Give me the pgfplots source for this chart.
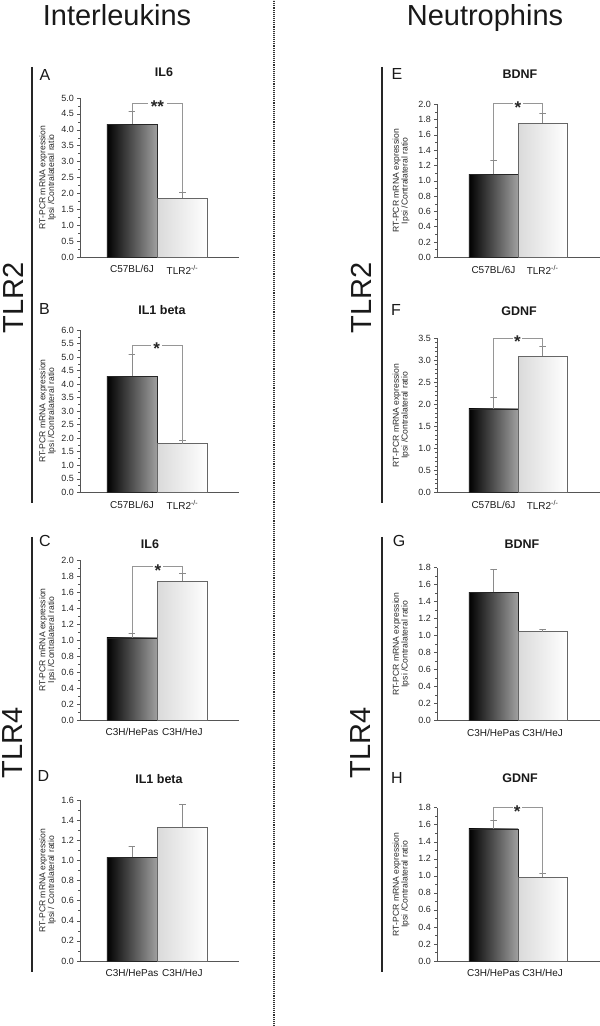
\documentclass[border=0pt]{standalone}
\usepackage{fontspec}
\setmainfont{Liberation Sans}
\usepackage{pgfplots}
\pgfplotsset{compat=1.18}
\definecolor{axc}{HTML}{555555}
\definecolor{barr}{HTML}{A0A0A0}
\definecolor{barl}{HTML}{DADADA}
\definecolor{errc}{HTML}{8A8A8A}
\pgfplotsset{
  panel/.style={
    scale only axis, anchor=south west, clip=false,
    axis x line=bottom, axis y line=left,
    axis line style={-, draw=axc, line width=0.6pt},
    ymin=0, xtick={0,1},
    major x tick style={draw=none},
    tick align=outside, major tick length=3pt, minor tick length=1.8pt,
    minor y tick num=1,
    every y tick/.style={draw=axc, line width=0.5pt},
    every minor y tick/.style={draw=axc, line width=0.4pt},
    yticklabel style={font=\fontsize{9}{9}\selectfont, text=black!85, xshift=0.5pt},
    xticklabel style={font=\fontsize{10}{10}\selectfont, text=black!90, anchor=north, yshift=-2pt},
    /pgf/number format/fixed, /pgf/number format/fixed zerofill,
    /pgf/number format/precision=1, /pgf/number format/assume math mode=true,
    ylabel style={font=\fontsize{8.6}{8.6}\selectfont, text=black!85, align=center, anchor=center},
  },
  lpanel/.style={panel, width=159pt, xmin=-1.03, xmax=2.12,
    ylabel style={at={(axis description cs:-0.204,0.5)}}},
  rpanel/.style={panel, width=163pt, xmin=-1.15, xmax=2.17,
    ylabel style={at={(axis description cs:-0.221,0.5)}}},
  bar1/.style={ybar, bar width=1, bar shift=0pt, draw=black!85, line width=0.4pt, left color=black, right color=barr},
  bar2/.style={ybar, bar width=1, bar shift=0pt, draw=black!60, line width=0.5pt, left color=barl, right color=white},
  errv/.style={draw=errc, line width=0.55pt, mark=none},
  brack/.style={draw=errc!90, line width=0.5pt, mark=none},
}
\tikzset{star/.style={font=\bfseries\fontsize{17}{17}\selectfont, text=black!85, anchor=base, yshift=-10pt, inner sep=0pt},
  big/.style={font=\fontsize{29}{29}\selectfont, text=black!90},
  letter/.style={font=\fontsize{16}{16}\selectfont, text=black!90, inner sep=0pt},
  ttl/.style={font=\bfseries\fontsize{12.5}{12.5}\selectfont, text=black!90, inner sep=0pt}}
\newcommand{\ylab}{RT-PCR mRNA expression\\Ipsi /Contralateral ratio}
\begin{document}
\begin{tikzpicture}[x=1pt,y=1pt]
% separators
\draw[line width=1.1pt, dash pattern=on 1pt off 0.9pt, black!80] (274,0) -- (274,1026);
\draw[line width=1.1pt, black!85] (32,959) -- (32,523);
\draw[line width=1.1pt, black!85] (32,489) -- (32,54);
\draw[line width=1.1pt, black!85] (382,959) -- (382,523);
\draw[line width=1.1pt, black!85] (382,489) -- (382,54);
% headers
\node[big, anchor=base] at (117,1000) {Interleukins};
\node[big, anchor=base] at (485,1000) {Neutrophins};
\node[big, rotate=90, inner sep=0pt] at (13,728) {TLR2};
\node[big, rotate=90, inner sep=0pt] at (361,728) {TLR2};
\node[big, rotate=90, inner sep=0pt] at (13,283) {TLR4};
\node[big, rotate=90, inner sep=0pt] at (361,283) {TLR4};
% letters and titles
\node[letter] at (45,951) {A};
\node[letter] at (44.5,716.5) {B};
\node[letter] at (45,485) {C};
\node[letter] at (43.5,250) {D};
\node[letter] at (397,952) {E};
\node[letter] at (396,716) {F};
\node[letter] at (399,485) {G};
\node[letter] at (397,248.5) {H};
\node[ttl] at (164,954) {IL6};
\node[ttl] at (162,716) {IL1 beta};
\node[ttl] at (150,482) {IL6};
\node[ttl] at (159,246.5) {IL1 beta};
\node[ttl] at (520,952) {BDNF};
\node[ttl] at (519,714.5) {GDNF};
\node[ttl] at (522,482) {BDNF};
\node[ttl] at (520,248) {GDNF};

% ---------- A
\begin{axis}[lpanel, at={(80pt,769pt)}, height=159pt, ymax=5,
  ytick={0,0.5,1,1.5,2,2.5,3,3.5,4,4.5,5},
  xticklabels={C57BL/6J, TLR2\textsuperscript{-/-}}, ylabel={\ylab}]
\addplot[bar1] coordinates {(0,4.18)};
\addplot[bar2] coordinates {(1,1.85)};
\addplot[errv] coordinates {(0,4.18) (0,4.59) (-0.065,4.59) (0.065,4.59)};
\addplot[errv] coordinates {(1,1.85) (1,2.03) (0.935,2.03) (1.065,2.03)};
\addplot[brack] coordinates {(0,4.59) (0,4.85) (0.31,4.85)};
\addplot[brack] coordinates {(0.70,4.85) (1,4.85) (1,2.03)};
\node[star] at (axis cs:0.505,4.85) {**};
\end{axis}
% ---------- B
\begin{axis}[lpanel, at={(80pt,533.7pt)}, height=162.3pt, ymax=6,
  ytick={0,0.5,1,1.5,2,2.5,3,3.5,4,4.5,5,5.5,6},
  xticklabels={C57BL/6J, TLR2\textsuperscript{-/-}}, ylabel={\ylab}]
\addplot[bar1] coordinates {(0,4.29)};
\addplot[bar2] coordinates {(1,1.80)};
\addplot[errv] coordinates {(0,4.29) (0,5.10) (-0.065,5.10) (0.065,5.10)};
\addplot[errv] coordinates {(1,1.80) (1,1.91) (0.935,1.91) (1.065,1.91)};
\addplot[brack] coordinates {(0,5.10) (0,5.45) (0.38,5.45)};
\addplot[brack] coordinates {(0.60,5.45) (1,5.45) (1,1.91)};
\node[star] at (axis cs:0.49,5.45) {*};
\end{axis}
% ---------- C
\begin{axis}[lpanel, at={(80pt,306pt)}, height=160pt, ymax=2,
  ytick={0,0.2,0.4,0.6,0.8,1,1.2,1.4,1.6,1.8,2},
  xticklabels={C3H/HePas, C3H/HeJ}, ylabel={\ylab}]
\addplot[bar1] coordinates {(0,1.025)};
\addplot[bar2] coordinates {(1,1.733)};
\addplot[errv] coordinates {(0,1.025) (0,1.09) (-0.065,1.09) (0.065,1.09)};
\addplot[errv] coordinates {(1,1.733) (1,1.833) (0.935,1.833) (1.065,1.833)};
\addplot[brack] coordinates {(0,1.09) (0,1.917) (0.41,1.917)};
\addplot[brack] coordinates {(0.62,1.917) (1,1.917) (1,1.833)};
\node[star] at (axis cs:0.515,1.917) {*};
\end{axis}
% ---------- D
\begin{axis}[lpanel, at={(80pt,65pt)}, height=161pt, ymax=1.6,
  ytick={0,0.2,0.4,0.6,0.8,1,1.2,1.4,1.6},
  xticklabels={C3H/HePas, C3H/HeJ},
  ylabel={RT-PCR mRNA expression\\Ipsi / Contralateral ratio}]
\addplot[bar1] coordinates {(0,1.03)};
\addplot[bar2] coordinates {(1,1.328)};
\addplot[errv] coordinates {(0,1.03) (0,1.136) (-0.065,1.136) (0.065,1.136)};
\addplot[errv] coordinates {(1,1.328) (1,1.56) (0.935,1.56) (1.065,1.56)};
\end{axis}
% ---------- E
\begin{axis}[rpanel, at={(437pt,768.7pt)}, height=153pt, ymax=2,
  ytick={0,0.2,0.4,0.6,0.8,1,1.2,1.4,1.6,1.8,2},
  xticklabels={C57BL/6J, TLR2\textsuperscript{-/-}}, ylabel={\ylab}]
\addplot[bar1] coordinates {(0,1.085)};
\addplot[bar2] coordinates {(1,1.75)};
\addplot[errv] coordinates {(0,1.085) (0,1.27) (-0.065,1.27) (0.065,1.27)};
\addplot[errv] coordinates {(1,1.75) (1,1.887) (0.935,1.887) (1.065,1.887)};
\addplot[brack] coordinates {(0,1.27) (0,2.01) (0.40,2.01)};
\addplot[brack] coordinates {(0.60,2.01) (1,2.01) (1,1.887)};
\node[star] at (axis cs:0.50,2.01) {*};
\end{axis}
% ---------- F
\begin{axis}[rpanel, at={(437pt,533.7pt)}, height=154pt, ymax=3.5,
  ytick={0,0.5,1,1.5,2,2.5,3,3.5}, minor y tick num=4,
  xticklabels={C57BL/6J, TLR2\textsuperscript{-/-}}, ylabel={\ylab}]
\addplot[bar1] coordinates {(0,1.894)};
\addplot[bar2] coordinates {(1,3.09)};
\addplot[errv] coordinates {(0,1.894) (0,2.17) (-0.065,2.17) (0.065,2.17)};
\addplot[errv] coordinates {(1,3.09) (1,3.31) (0.935,3.31) (1.065,3.31)};
\addplot[brack] coordinates {(0,2.17) (0,3.51) (0.39,3.51)};
\addplot[brack] coordinates {(0.59,3.51) (1,3.51) (1,3.31)};
\node[star] at (axis cs:0.49,3.51) {*};
\end{axis}
% ---------- G
\begin{axis}[rpanel, at={(437pt,305.3pt)}, height=153pt, ymax=1.8,
  ytick={0,0.2,0.4,0.6,0.8,1,1.2,1.4,1.6,1.8},
  xticklabels={C3H/HePas, C3H/HeJ}, ylabel={\ylab}]
\addplot[bar1] coordinates {(0,1.51)};
\addplot[bar2] coordinates {(1,1.047)};
\addplot[errv] coordinates {(0,1.51) (0,1.78) (-0.065,1.78) (0.065,1.78)};
\addplot[errv] coordinates {(1,1.047) (1,1.074) (0.935,1.074) (1.065,1.074)};
\end{axis}
% ---------- H
\begin{axis}[rpanel, at={(437pt,65pt)}, height=153.3pt, ymax=1.8,
  ytick={0,0.2,0.4,0.6,0.8,1,1.2,1.4,1.6,1.8},
  xticklabels={C3H/HePas, C3H/HeJ}, ylabel={\ylab}]
\addplot[bar1] coordinates {(0,1.553)};
\addplot[bar2] coordinates {(1,0.982)};
\addplot[errv] coordinates {(0,1.553) (0,1.651) (-0.065,1.651) (0.065,1.651)};
\addplot[errv] coordinates {(1,0.982) (1,1.025) (0.935,1.025) (1.065,1.025)};
\addplot[brack] coordinates {(0,1.651) (0,1.80) (0.39,1.80)};
\addplot[brack] coordinates {(0.58,1.80) (1,1.80) (1,1.025)};
\node[star] at (axis cs:0.485,1.80) {*};
\end{axis}
\pgfresetboundingbox
\useasboundingbox (0,0) rectangle (600,1026);
\end{tikzpicture}
\end{document}
